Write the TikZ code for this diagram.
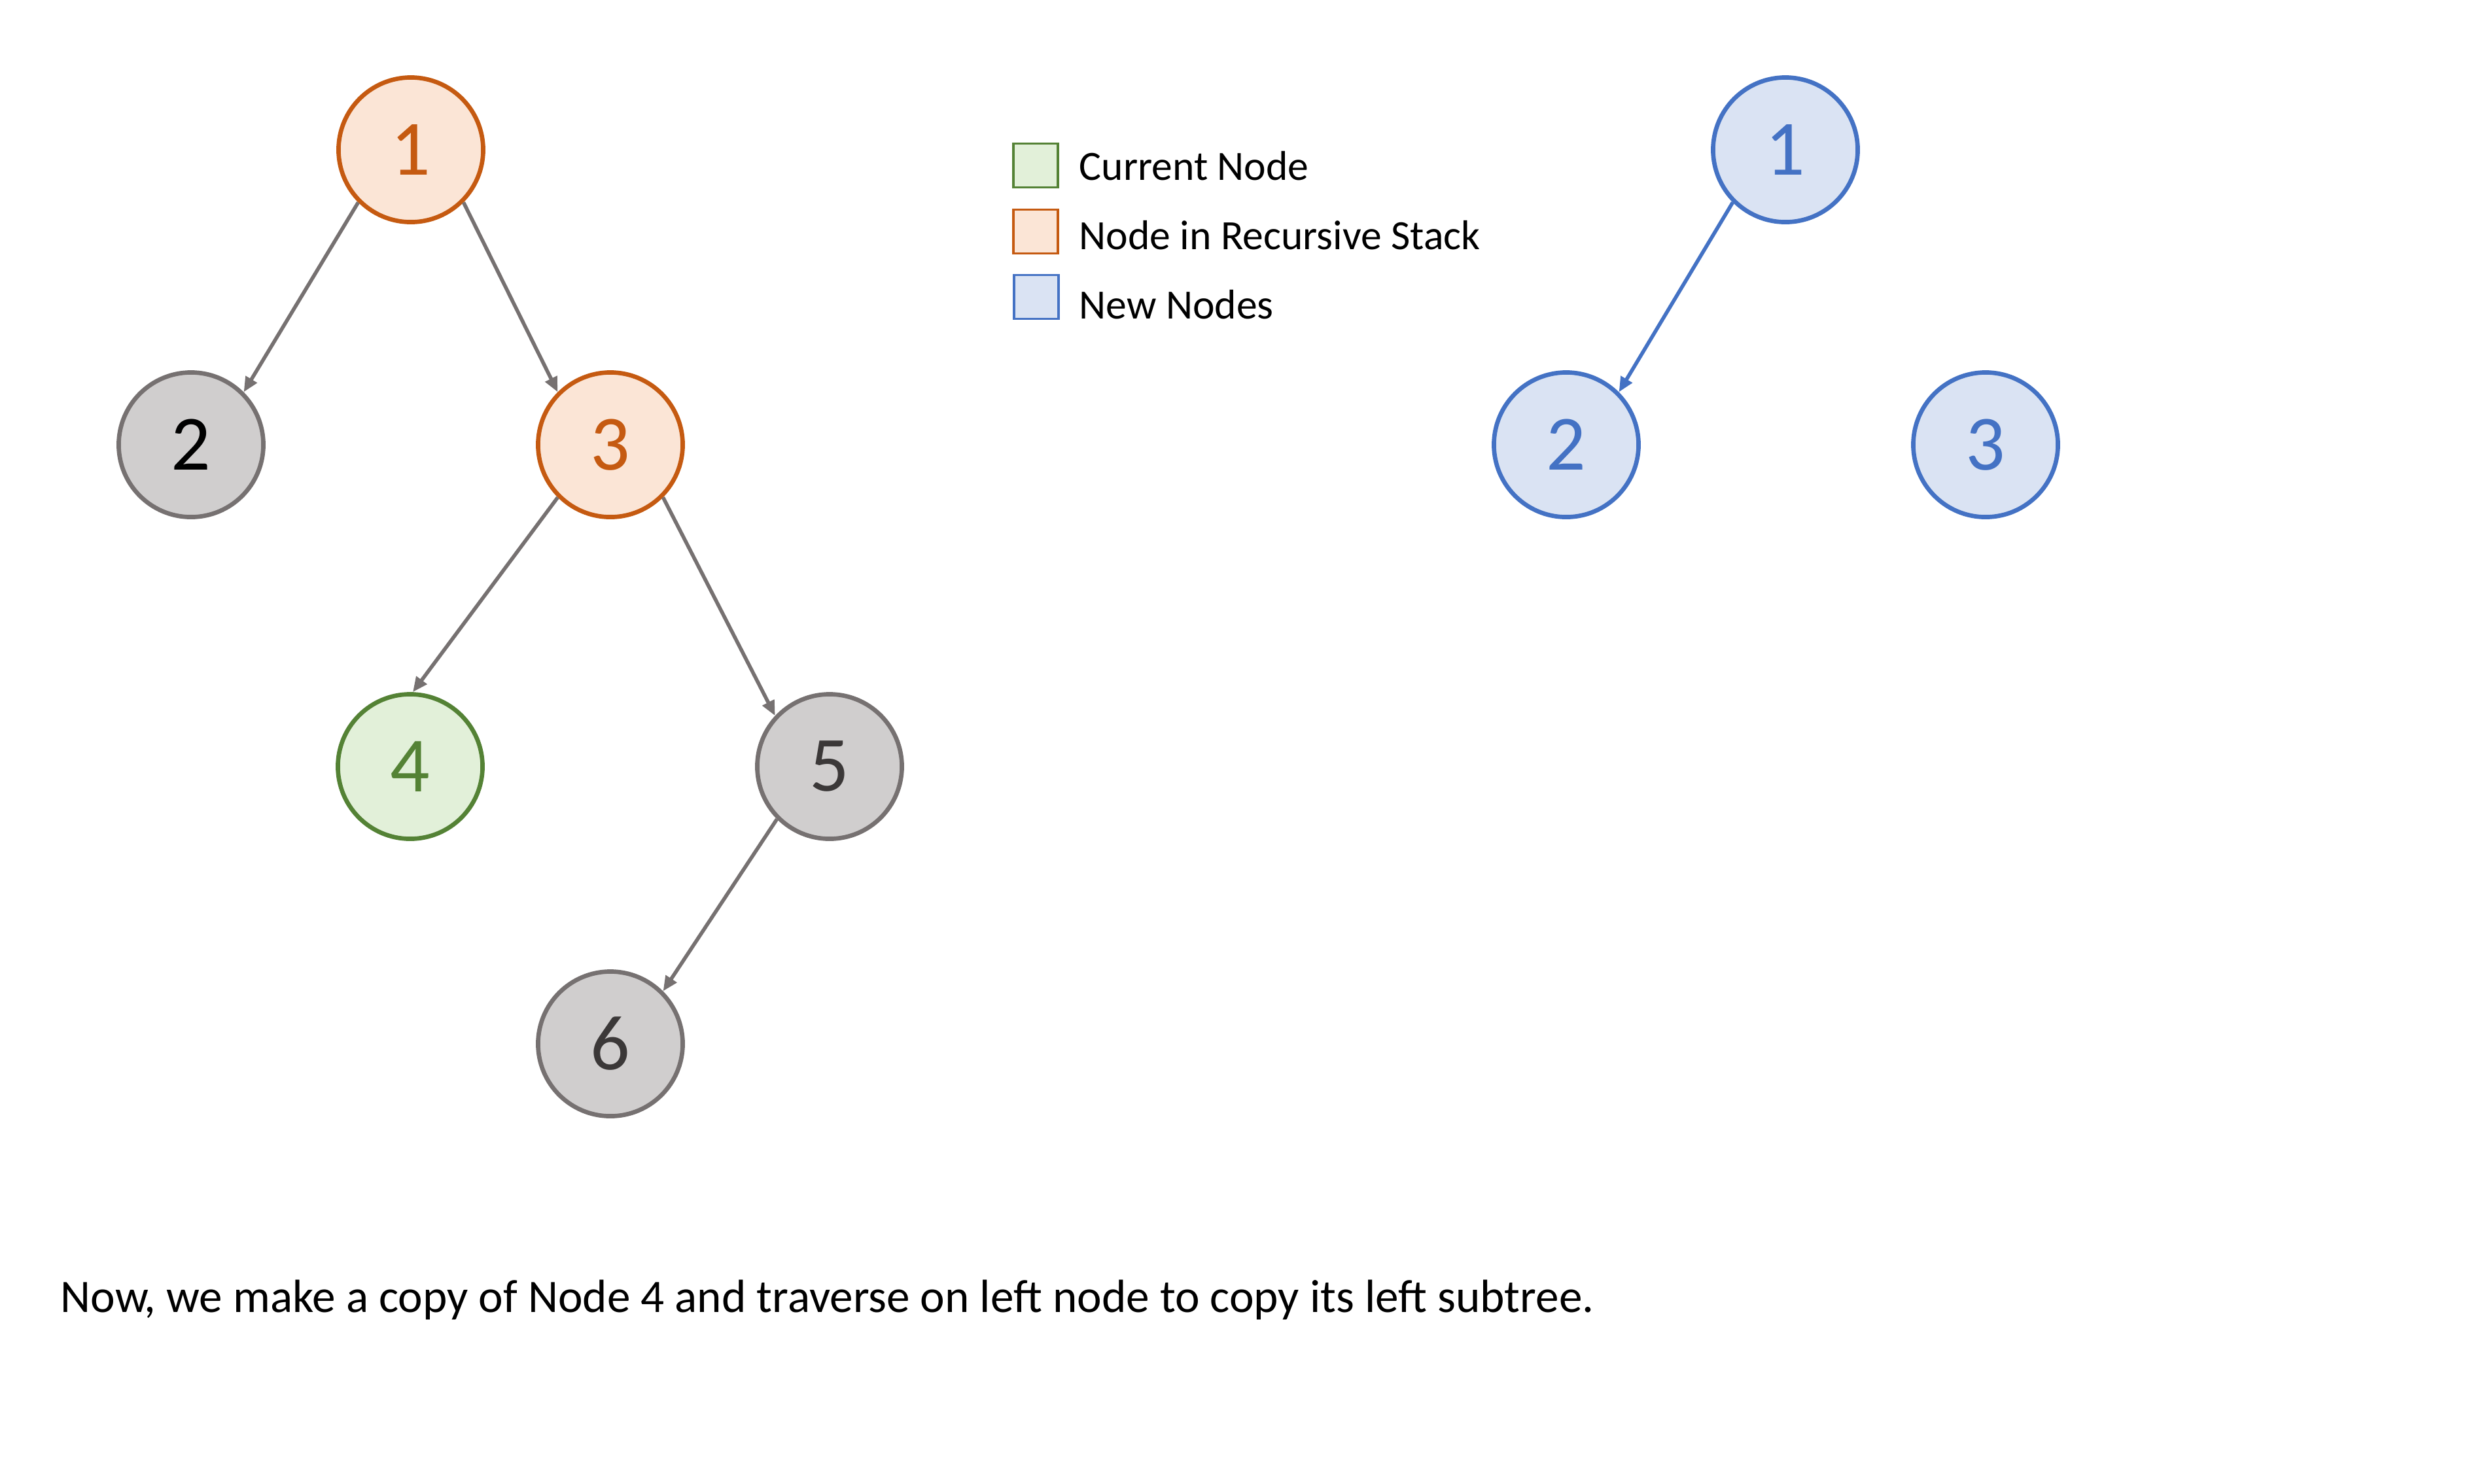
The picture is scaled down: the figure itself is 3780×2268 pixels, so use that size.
\documentclass[tikz,border=0pt]{standalone}
\usepackage{fontspec}
\setmainfont{Carlito}
\usetikzlibrary{arrows.meta}
\definecolor{orS}{HTML}{C55A11}
\definecolor{orF}{HTML}{FBE5D6}
\definecolor{grS}{HTML}{767171}
\definecolor{grF}{HTML}{D0CECE}
\definecolor{grT}{HTML}{3B3838}
\definecolor{gnS}{HTML}{548235}
\definecolor{gnF}{HTML}{E2F0D9}
\definecolor{blS}{HTML}{4472C4}
\definecolor{blF}{HTML}{DAE3F3}
\tikzset{
  tnode/.style={circle, minimum size=2.21cm, inner sep=0pt, line width=1.9pt, font=\fontsize{34}{40}\selectfont},
  orangenode/.style={tnode, draw=orS, fill=orF, text=orS},
  graynode/.style={tnode, draw=grS, fill=grF, text=grT},
  greennode/.style={tnode, draw=gnS, fill=gnF, text=gnS},
  bluenode/.style={tnode, draw=blS, fill=blF, text=blS},
  treeedge/.style={line width=1.6pt, draw=grS, -{Triangle[length=6.5pt,width=5.5pt]}},
  blueedge/.style={treeedge, draw=blS},
  legbox/.style={rectangle, minimum width=0.68cm, minimum height=0.67cm, inner sep=0pt, line width=1.1pt},
  legtext/.style={anchor=base west, inner sep=0pt, font=\fontsize{18.1}{22}\selectfont},
}
\begin{document}
\begin{tikzpicture}[x=0.01cm,y=-0.01cm]
\useasboundingbox[fill=white] (0,0) rectangle (3780,2268);
% left tree
\node[orangenode] (n1) at (628,229) {1};
\node[graynode, text=black] (n2) at (292,680) {2};
\node[orangenode] (n3) at (933,680) {3};
\node[greennode] (n4) at (627,1172) {4};
\node[graynode] (n5) at (1268,1172) {5};
\node[graynode] (n6) at (933,1596) {6};
\draw[treeedge] (n1.225) -- (n2.45);
\draw[treeedge] (n1.315) -- (n3.135);
\draw[treeedge] (n3.225) -- (n4.88);
\draw[treeedge] (n3.315) -- (n5.137);
\draw[treeedge] (n5.225) -- (n6.45);
% legend
\node[legbox, draw=gnS, fill=gnF] (lg1) at (1583,253) {};
\node[legbox, draw=orS, fill=orF] (lg2) at (1583,354) {};
\node[legbox, draw=blS, fill=blF] (lg3) at (1584,454) {};
\node[legtext] (lt1) at (1649,275) {Current Node};
\node[legtext] (lt2) at (1649,381) {Node in Recursive Stack};
\node[legtext] (lt3) at (1649,487) {New Nodes};
% right tree
\node[bluenode] (m1) at (2729,229) {1};
\node[bluenode] (m2) at (2394,680) {2};
\node[bluenode] (m3) at (3035,680) {3};
\draw[blueedge] (m1.225) -- (m2.45);
% caption
\node[anchor=base west, inner sep=0pt, font=\fontsize{20.25}{24}\selectfont] (cap) at (92,2006) {Now, we make a copy of Node 4 and traverse on left node to copy its left subtree.};
\end{tikzpicture}
\end{document}
